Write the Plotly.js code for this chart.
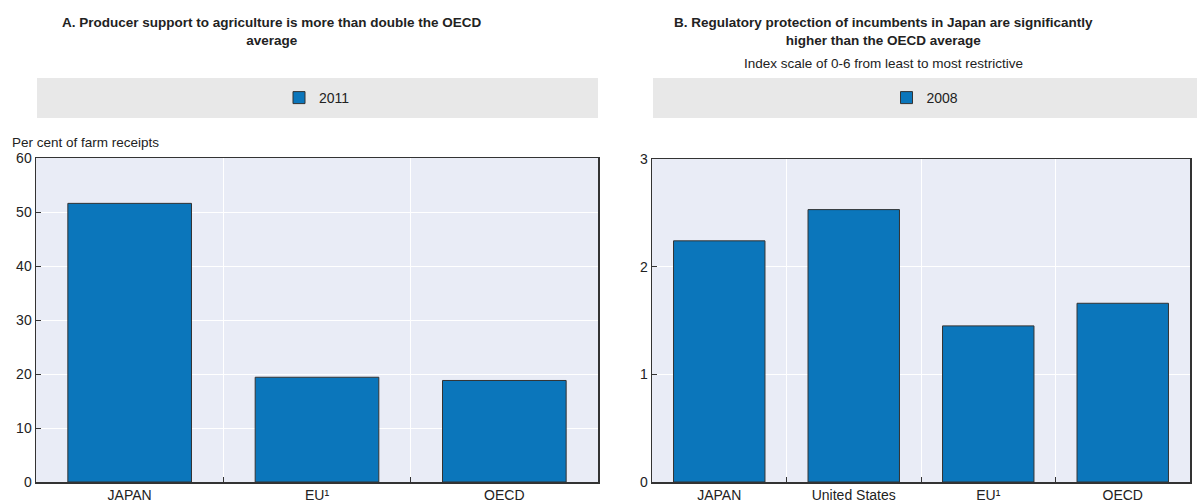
<!DOCTYPE html>
<html><head><meta charset="utf-8">
<script src="https://cdn.plot.ly/plotly-3.0.1.min.js"></script>
<style>html,body{margin:0;padding:0;background:#fff}</style>
</head><body><div id="chart" style="width:1197px;height:503px"></div>
<script>
const catsA = ['JAPAN', 'EU¹', 'OECD'];
const valsA = [51.6, 19.4, 18.8];
const nameA = '2011';
const catsB = ['JAPAN', 'United States', 'EU¹', 'OECD'];
const valsB = [2.24, 2.53, 1.45, 1.66];
const nameB = '2008';
const ticksA = [0, 10, 20, 30, 40, 50, 60];
const ticksB = [0, 1, 2, 3];

const FONT = '"Liberation Sans Narrow", "Arial Narrow", "Liberation Sans", Arial, sans-serif';
const BAR = '#0b76bb';
const W = 1197, H = 503;
const px = x => x / W, py = y => (H - y) / H;

const traces = [
  {type:'bar', x:catsA, y:valsA, name:nameA, xaxis:'x', yaxis:'y', width:0.66,
   marker:{color:BAR, line:{color:'#333', width:1}}, legend:'legend'},
  {type:'bar', x:catsB, y:valsB, name:nameB, xaxis:'x2', yaxis:'y2', width:0.68,
   marker:{color:BAR, line:{color:'#333', width:1}}, legend:'legend2'}
];

const axBase = {
  showline:true, mirror:true, linecolor:'#333', linewidth:1.5,
  gridcolor:'#ffffff', gridwidth:1, zeroline:false,
  tickfont:{family:FONT, size:14, color:'#222'}, fixedrange:true
};
const xBase = Object.assign({}, axBase, {type:'category', tickson:'boundaries', ticks:'inside', ticklen:5, tickcolor:'#333', showgrid:true});
const yBase = Object.assign({}, axBase, {ticks:'inside', ticklen:5, tickcolor:'#333', showgrid:true});

const layout = {
  width:W, height:H, margin:{l:0, r:0, t:0, b:0},
  paper_bgcolor:'#fff', plot_bgcolor:'#e9ecf6',
  font:{family:FONT, color:'#222'},
  bargap:0.34,
  xaxis: Object.assign({}, xBase, {domain:[px(36), px(598)], anchor:'y'}),
  yaxis: Object.assign({}, yBase, {domain:[py(482), py(158)], anchor:'x', range:[0,60], tickvals:ticksA}),
  xaxis2: Object.assign({}, xBase, {domain:[px(652), px(1190)], anchor:'y2'}),
  yaxis2: Object.assign({}, yBase, {domain:[py(482), py(159)], anchor:'x2', range:[0,3], tickvals:ticksB}),
  shapes:[
    {type:'rect', xref:'paper', yref:'paper', x0:px(37), x1:px(598), y0:py(118), y1:py(78), fillcolor:'#e8e8e8', line:{width:0}, layer:'below'},
    {type:'rect', xref:'paper', yref:'paper', x0:px(653), x1:px(1197), y0:py(118), y1:py(78), fillcolor:'#e8e8e8', line:{width:0}, layer:'below'}
  ],
  showlegend:true,
  legend:{x:px(317), xanchor:'center', y:py(98), yanchor:'middle', orientation:'h', bgcolor:'rgba(0,0,0,0)', font:{family:FONT, size:14, color:'#222'}, itemwidth:30},
  legend2:{x:px(925), xanchor:'center', y:py(98), yanchor:'middle', orientation:'h', bgcolor:'rgba(0,0,0,0)', font:{family:FONT, size:14, color:'#222'}, itemwidth:30},
  annotations:[
    {xref:'paper', yref:'paper', x:px(272), y:py(31), xanchor:'center', yanchor:'middle', showarrow:false,
     text:'<b>A. Producer support to agriculture is more than double the OECD<br>average</b>', font:{family:FONT, size:13.5, color:'#222'}},
    {xref:'paper', yref:'paper', x:px(883), y:py(31), xanchor:'center', yanchor:'middle', showarrow:false,
     text:'<b>B. Regulatory protection of incumbents in Japan are significantly<br>higher than the OECD average</b>', font:{family:FONT, size:13.5, color:'#222'}},
    {xref:'paper', yref:'paper', x:px(883), y:py(64), xanchor:'center', yanchor:'middle', showarrow:false,
     text:'Index scale of 0-6 from least to most restrictive', font:{family:FONT, size:13.5, color:'#222'}},
    {xref:'paper', yref:'paper', x:px(10), y:py(142), xanchor:'left', yanchor:'middle', showarrow:false,
     text:'Per cent of farm receipts', font:{family:FONT, size:13.5, color:'#222'}}
  ]
};

Plotly.newPlot('chart', traces, layout, {displayModeBar:false, staticPlot:true});
</script></body></html>
